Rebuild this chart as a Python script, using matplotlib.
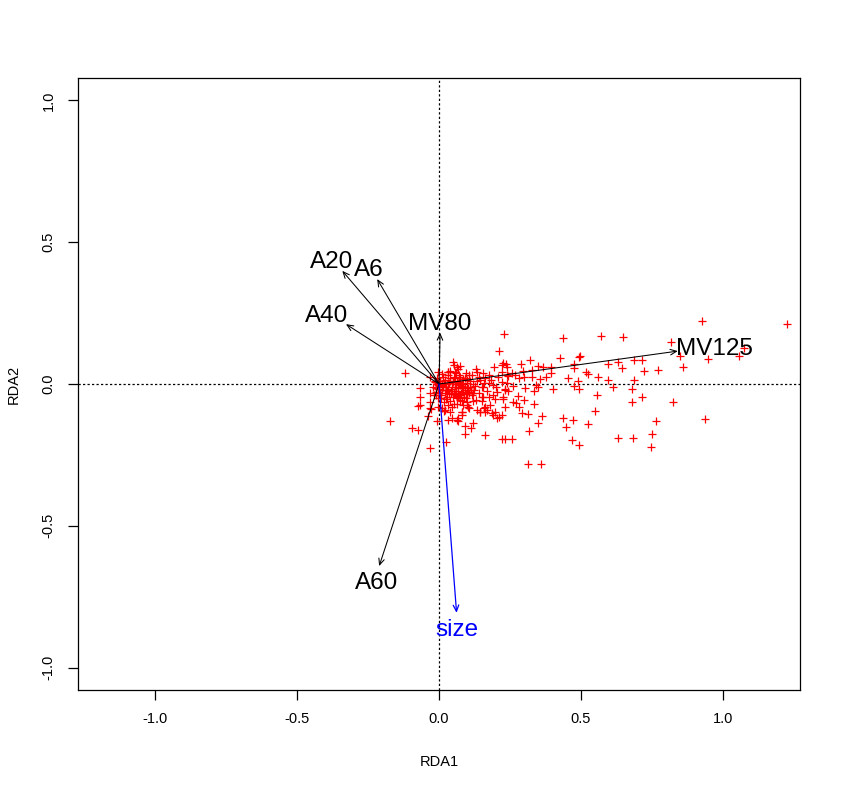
import matplotlib
matplotlib.use("Agg")
import matplotlib.pyplot as plt

plt.rcParams['font.family'] = ['Liberation Sans', 'DejaVu Sans']

# ---- data -----------------------------------------------------------
site_x = [0.229, 0.436, 0.571, 0.648, 0.427, 0.494, 0.497, 0.321, 0.288, 0.348,
          0.366, 0.394, 0.476, 0.476, 0.595, 0.630, 0.646, 0.688, 0.717, 0.724,
          0.394, 0.328, 0.297, 0.519, 0.527, 0.455, 0.560, 0.489, 0.595, 0.688,
          0.376, 0.356, 0.328, 0.301, 0.283, 0.304, 0.336, 0.342, 0.348, 0.402,
          0.476, 0.494, 0.615, 0.680, 0.556, 0.716, 0.680, 0.300, 0.278, 0.335,
          0.272, 0.281, 0.260, 0.550, 0.293, 0.315, 0.362, 0.436, 0.474, 0.348,
          0.448, 0.526, 0.317, 0.234, 0.259, 0.630, 0.684, 0.468, 0.494, 0.314,
          0.360, 0.225, 0.239, 0.221, 0.239, 0.256, 0.268, 0.221, 0.241, 0.262,
          0.233, 0.244, 0.225, 0.233, 0.927, 1.226, 0.818, 1.076, 0.850, 0.948,
          1.059, 0.774, 0.862, 0.826, 0.764, 0.937, 0.751, 0.747, 0.054, -0.120,
          -0.005, 0.031, 0.068, 0.131, 0.154, 0.195, 0.209, -0.032, -0.067, -0.067,
          -0.032, -0.032, -0.073, -0.040, -0.096, -0.075, -0.032, 0.019, 0.031, 0.062,
          0.092, 0.121, 0.080, 0.133, 0.162, 0.168, 0.198, 0.221, 0.180, 0.156,
          0.192, 0.121, 0.162, 0.092, 0.221, 0.054, -0.173, -0.028, -0.005, 0.021,
          0.039, 0.101, 0.080, 0.047, -0.006, 0.066, 0.145, 0.160, 0.189, 0.213,
          0.113, 0.025, 0.213, 0.221, 0.236, 0.244, 0.201, 0.177, 0.162, 0.133,
          0.106, 0.098, 0.074, 0.062, 0.074, 0.068, 0.080, 0.098, 0.127, 0.156,
          0.204, 0.233, 0.227, 0.198, 0.177, 0.151, 0.074, 0.098, 0.162, 0.082,
          0.145, 0.186, 0.204, 0.066, -0.067, -0.032, 0.033, 0.050, 0.056,
          0.005, 0.012, 0.020, 0.025, 0.030, 0.035, 0.040, 0.045, 0.050, 0.055,
          0.060, 0.065, 0.070, 0.075, 0.080, 0.085, 0.090, 0.095, 0.100, 0.105,
          0.110, 0.002, 0.008, 0.015, 0.018, 0.022, 0.028, 0.033, 0.038, 0.042,
          0.048, 0.052, 0.058, 0.062, 0.068, 0.072, 0.078, 0.082, 0.088, 0.092,
          0.098, 0.102, 0.108, 0.115, 0.120, 0.125, 0.130, 0.135, 0.140, 0.145,
          -0.005, -0.010, -0.008, -0.012, -0.015, 0.010, 0.030, 0.045, 0.065, 0.085,
          0.012, 0.040, 0.060, 0.095, 0.115, 0.150, 0.160, 0.170, 0.175, 0.185,
          0.190, 0.140, 0.120, 0.105, 0.150,
          -0.020, -0.015, -0.010, -0.006, -0.002, 0.003, 0.007, 0.011, 0.016, 0.021,
          0.026, 0.031, 0.036, 0.041, 0.046, 0.051, 0.056, 0.061, 0.066, 0.071,
          0.076, 0.081, 0.086, 0.091, 0.096, -0.018, -0.004, 0.009, 0.024, 0.038,
          0.053, 0.067, 0.083, 0.097, 0.112, 0.014, 0.029, 0.044, 0.059, 0.074]
site_y = [0.177, 0.162, 0.170, 0.165, 0.092, 0.096, 0.099, 0.085, 0.072, 0.065,
          0.061, 0.061, 0.071, 0.057, 0.069, 0.077, 0.055, 0.085, 0.084, 0.047,
          0.040, 0.049, 0.047, 0.043, 0.035, 0.021, 0.025, 0.012, 0.014, 0.014,
          0.026, 0.018, 0.026, 0.026, 0.020, -0.013, -0.024, -0.004, -0.010, -0.019,
          -0.007, -0.018, -0.010, -0.018, -0.039, -0.045, -0.065, -0.056, -0.042, -0.071,
          -0.068, -0.080, -0.062, -0.094, -0.103, -0.106, -0.112, -0.119, -0.127, -0.137,
          -0.151, -0.142, -0.167, -0.195, -0.195, -0.189, -0.189, -0.196, -0.214, -0.281,
          -0.281, 0.073, 0.061, 0.043, 0.032, 0.038, 0.032, 0.008, 0.002, -0.007,
          -0.021, -0.025, -0.054, -0.082, 0.222, 0.213, 0.148, 0.128, 0.099, 0.088,
          0.100, 0.049, 0.059, -0.065, -0.129, -0.122, -0.175, -0.221, 0.067, 0.040,
          0.041, 0.041, 0.052, 0.052, 0.038, 0.061, 0.026, 0.024, -0.015, -0.045,
          -0.033, -0.062, -0.077, -0.113, -0.154, -0.162, -0.227, -0.095, -0.127, -0.127,
          -0.148, -0.137, -0.098, -0.092, -0.098, -0.092, -0.098, -0.109, -0.074, -0.045,
          -0.039, -0.033, -0.180, -0.177, -0.195, 0.026, -0.129, -0.088, -0.080, -0.092,
          -0.100, -0.080, -0.109, -0.121, -0.131, -0.131, -0.100, -0.084, -0.109, -0.115,
          -0.156, -0.204, 0.116, 0.067, 0.071, 0.029, -0.010, 0.002, 0.020, 0.043,
          0.032, 0.014, 0.026, 0.061, 0.063, 0.002, -0.015, -0.033, -0.007, -0.012,
          -0.027, -0.019, -0.045, -0.054, -0.045, -0.045, -0.056, -0.074, -0.080, -0.098,
          -0.098, -0.103, -0.121, -0.121, -0.074, -0.086, 0.043, 0.079, 0.043,
          0.010, -0.005, 0.015, -0.020, 0.005, -0.035, 0.020, -0.010, -0.045, 0.000,
          -0.025, 0.012, -0.040, -0.005, -0.060, 0.018, -0.020, -0.050, 0.005, -0.030,
          -0.012, -0.030, -0.050, 0.025, -0.065, 0.000, -0.045, 0.030, -0.060, -0.025,
          0.010, -0.070, 0.022, -0.050, -0.015, 0.030, -0.035, 0.000, -0.045, 0.020,
          -0.065, -0.015, 0.010, -0.040, 0.000, -0.020, -0.055, 0.010, -0.030, 0.015,
          0.005, -0.015, 0.020, -0.040, 0.010, -0.085, -0.075, -0.080, -0.070, -0.075,
          0.035, 0.045, 0.040, 0.040, 0.030, -0.010, 0.005, -0.025, 0.030, 0.015,
          -0.005, 0.025, -0.060, -0.085, -0.060,
          -0.010, 0.008, -0.028, 0.000, -0.018, 0.012, -0.038, -0.008, 0.004, -0.030,
          -0.012, -0.022, 0.002, -0.032, -0.016, 0.006, -0.036, -0.010, -0.024, 0.008,
          -0.030, -0.008, -0.028, -0.012, -0.036, -0.040, -0.048, -0.020, -0.052, 0.012,
          -0.030, -0.046, -0.012, -0.028, -0.022, -0.010, -0.020, -0.030, -0.040, -0.050]

var_names = ["A20", "A6", "A40", "MV80", "MV125", "A60"]
var_x = [-0.341, -0.218, -0.328, 0.004, 0.842, -0.211]
var_y = [0.399, 0.370, 0.211, 0.181, 0.116, -0.642]
var_label_x = [-0.378, -0.246, -0.398, 0.004, 0.970, -0.220]
var_label_y = [0.430, 0.402, 0.239, 0.212, 0.124, -0.702]

cond_name = "size"
cond_x = 0.062
cond_y = -0.807
cond_label_x = 0.065
cond_label_y = -0.866

x_ticks = [-1.0, -0.5, 0.0, 0.5, 1.0]
y_ticks = [-1.0, -0.5, 0.0, 0.5, 1.0]

# ---- figure ---------------------------------------------------------
fig = plt.figure(figsize=(8.41, 7.89), dpi=100)
ax = fig.add_axes([78/841, 1-690/789, (800-78)/841, (690-78)/789])
ax.set_xlim(-1.273, 1.273)
ax.set_ylim(-1.079, 1.079)

dot = (0, (1.8, 1.8))
ax.axhline(0, color='black', lw=0.9, linestyle=dot, zorder=1)
ax.axvline(0, color='black', lw=0.9, linestyle=dot, zorder=1)

ax.plot(site_x, site_y, linestyle='none', marker='+', color='#ff0000',
        markersize=6, markeredgewidth=0.9, zorder=2)

for nm, x, y, lx, ly in zip(var_names, var_x, var_y, var_label_x, var_label_y):
    ax.annotate('', xy=(x, y), xytext=(0, 0),
                arrowprops=dict(arrowstyle='->,head_length=0.45,head_width=0.2',
                                color='black', lw=0.75, shrinkA=0, shrinkB=0),
                zorder=3)
    ax.text(lx, ly, nm, fontsize=17.5, ha='center', va='center', color='black', zorder=4)

ax.annotate('', xy=(cond_x, cond_y), xytext=(0, 0),
            arrowprops=dict(arrowstyle='->,head_length=0.45,head_width=0.2',
                            color='#0000ff', lw=0.9, shrinkA=0, shrinkB=0),
            zorder=3)
ax.text(cond_label_x, cond_label_y, cond_name, fontsize=17.5, ha='center', va='center',
        color='#0000ff', zorder=4)

ax.set_xticks(x_ticks)
ax.set_yticks(y_ticks)
ax.set_xticklabels([f"{t:.1f}" for t in x_ticks])
ax.set_yticklabels([f"{t:.1f}" for t in y_ticks], rotation=90, va='center')
ax.tick_params(axis='both', length=7, width=0.9, labelsize=10.5, pad=9, direction='out')
for s in ax.spines.values():
    s.set_linewidth(0.9)

ax.set_xlabel("RDA1", fontsize=10.5, labelpad=21)
ax.set_ylabel("RDA2", fontsize=10.5, labelpad=15)

fig.savefig("out.png", dpi=100)
